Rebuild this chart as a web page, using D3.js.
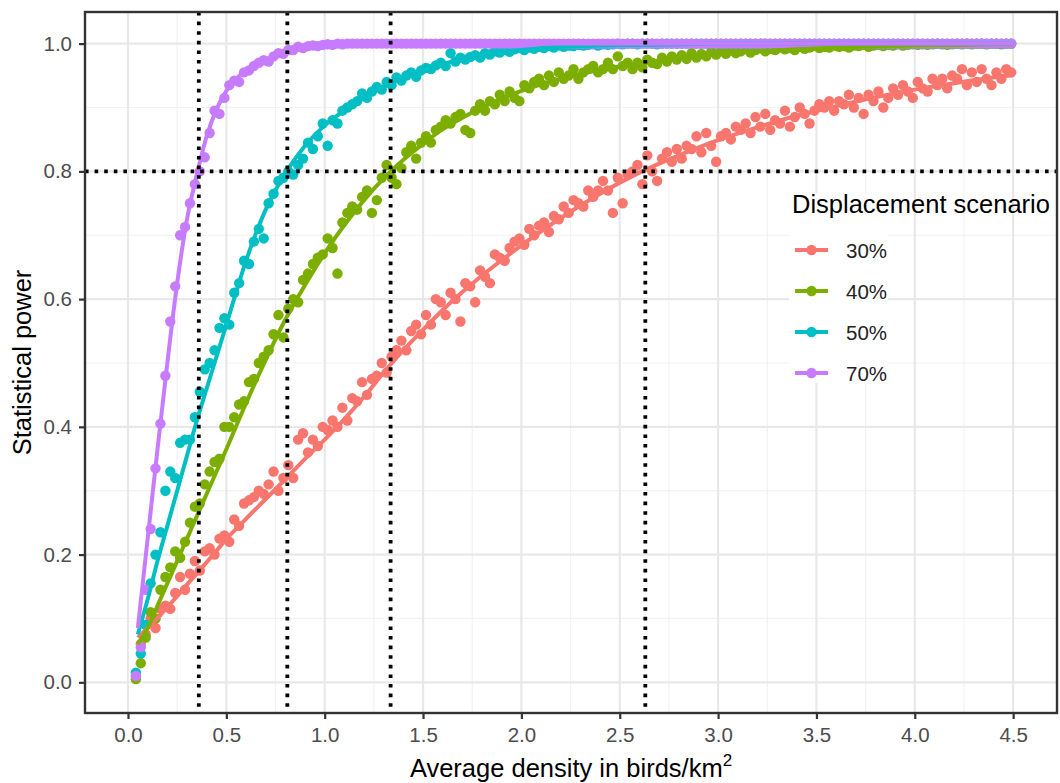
<!DOCTYPE html>
<html>
<head>
<meta charset="utf-8">
<script src="https://cdn.jsdelivr.net/npm/d3@7"></script>
<style>
  body { margin: 0; background: #fff; }
  svg { display: block; font-family: "Liberation Sans", Arial, sans-serif; }
</style>
</head>
<body>
<svg id="canvas"></svg>
<script>
// simulated densities (birds/km2), shared by all scenarios
let density = [
  0.04,0.065,0.09,0.115,0.14,0.165,0.19,0.215,0.24,0.265,
  0.29,0.315,0.34,0.365,0.39,0.415,0.44,0.465,0.49,0.515,
  0.54,0.565,0.59,0.615,0.64,0.665,0.69,0.715,0.74,0.765,
  0.79,0.815,0.84,0.865,0.89,0.915,0.94,0.965,0.99,1.015,
  1.04,1.065,1.09,1.115,1.14,1.165,1.19,1.215,1.24,1.265,
  1.29,1.315,1.34,1.365,1.39,1.415,1.44,1.465,1.49,1.515,
  1.54,1.565,1.59,1.615,1.64,1.665,1.69,1.715,1.74,1.765,
  1.79,1.815,1.84,1.865,1.89,1.915,1.94,1.965,1.99,2.015,
  2.04,2.065,2.09,2.115,2.14,2.165,2.19,2.215,2.24,2.265,
  2.29,2.315,2.34,2.365,2.39,2.415,2.44,2.465,2.49,2.515,
  2.54,2.565,2.59,2.615,2.64,2.665,2.69,2.715,2.74,2.765,
  2.79,2.815,2.84,2.865,2.89,2.915,2.94,2.965,2.99,3.015,
  3.04,3.065,3.09,3.115,3.14,3.165,3.19,3.215,3.24,3.265,
  3.29,3.315,3.34,3.365,3.39,3.415,3.44,3.465,3.49,3.515,
  3.54,3.565,3.59,3.615,3.64,3.665,3.69,3.715,3.74,3.765,
  3.79,3.815,3.84,3.865,3.89,3.915,3.94,3.965,3.99,4.015,
  4.04,4.065,4.09,4.115,4.14,4.165,4.19,4.215,4.24,4.265,
  4.29,4.315,4.34,4.365,4.39,4.415,4.44,4.465,4.49
]

let power30 = [
  0.01,0.06,0.075,0.10,0.085,0.115,0.12,0.115,0.14,0.165,
  0.145,0.17,0.19,0.175,0.205,0.21,0.2,0.225,0.23,0.22,
  0.255,0.245,0.28,0.285,0.29,0.30,0.295,0.31,0.33,0.30,
  0.32,0.34,0.32,0.38,0.39,0.36,0.38,0.37,0.40,0.395,
  0.41,0.40,0.43,0.41,0.445,0.44,0.47,0.45,0.475,0.48,
  0.50,0.485,0.51,0.52,0.535,0.52,0.55,0.56,0.545,0.575,
  0.56,0.60,0.595,0.575,0.61,0.60,0.565,0.625,0.62,0.595,
  0.645,0.635,0.625,0.67,0.665,0.66,0.68,0.69,0.695,0.685,
  0.71,0.70,0.715,0.72,0.705,0.73,0.725,0.745,0.735,0.755,
  0.75,0.745,0.77,0.76,0.77,0.785,0.77,0.735,0.79,0.75,
  0.795,0.80,0.81,0.78,0.825,0.80,0.785,0.82,0.83,0.815,
  0.835,0.82,0.84,0.835,0.855,0.83,0.86,0.84,0.815,0.855,
  0.86,0.85,0.87,0.865,0.875,0.86,0.885,0.87,0.89,0.865,
  0.88,0.875,0.895,0.87,0.885,0.90,0.89,0.875,0.895,0.905,
  0.90,0.91,0.895,0.91,0.905,0.92,0.90,0.915,0.89,0.92,
  0.91,0.925,0.90,0.915,0.93,0.92,0.935,0.925,0.915,0.94,
  0.93,0.925,0.945,0.935,0.945,0.93,0.95,0.945,0.96,0.935,
  0.955,0.94,0.96,0.945,0.935,0.955,0.945,0.96,0.955
]

let power40 = [
  0.005,0.03,0.07,0.11,0.10,0.145,0.165,0.18,0.205,0.195,
  0.22,0.25,0.275,0.28,0.31,0.33,0.345,0.35,0.40,0.40,
  0.415,0.435,0.44,0.47,0.475,0.50,0.51,0.52,0.545,0.575,
  0.54,0.585,0.60,0.595,0.63,0.64,0.655,0.665,0.67,0.695,
  0.68,0.64,0.72,0.735,0.745,0.74,0.76,0.77,0.735,0.755,
  0.79,0.81,0.79,0.78,0.805,0.83,0.84,0.82,0.845,0.855,
  0.845,0.865,0.87,0.88,0.875,0.885,0.89,0.865,0.86,0.895,
  0.905,0.895,0.91,0.905,0.92,0.91,0.925,0.915,0.91,0.935,
  0.93,0.94,0.945,0.935,0.95,0.94,0.955,0.945,0.95,0.96,
  0.945,0.955,0.96,0.965,0.955,0.96,0.97,0.96,0.98,0.965,
  0.97,0.96,0.97,0.963,0.975,0.97,0.968,0.978,0.972,0.98,
  0.975,0.982,0.976,0.985,0.978,0.984,0.98,0.987,0.983,0.988,
  0.984,0.99,0.985,0.988,0.992,0.986,0.99,0.993,0.988,0.992,
  0.99,0.994,0.991,0.993,0.99,0.995,0.992,0.994,0.996,0.993,
  0.995,0.994,0.997,0.995,0.996,0.994,0.997,0.996,0.998,0.995,
  0.997,0.998,0.996,0.998,0.997,0.999,0.997,0.998,0.999,0.998,
  0.999,0.998,0.999,1,0.999,0.998,0.999,1,0.999,1,
  0.999,1,1,0.999,1,1,0.999,1,1
]

let power50 = [
  0.015,0.045,0.09,0.155,0.20,0.235,0.30,0.33,0.32,0.375,
  0.38,0.38,0.415,0.455,0.49,0.50,0.52,0.555,0.57,0.56,
  0.61,0.625,0.66,0.655,0.69,0.71,0.695,0.75,0.765,0.785,
  0.79,0.80,0.795,0.81,0.82,0.845,0.835,0.855,0.875,0.84,
  0.88,0.875,0.895,0.90,0.905,0.91,0.922,0.915,0.925,0.932,
  0.928,0.94,0.935,0.947,0.942,0.95,0.955,0.948,0.958,0.962,
  0.96,0.966,0.97,0.965,0.985,0.972,0.978,0.975,0.979,0.982,
  0.978,0.985,0.983,0.988,0.986,0.99,0.987,0.991,0.993,0.99,
  0.994,0.992,0.995,0.993,0.996,0.994,0.997,0.995,0.997,0.996,
  0.998,0.997,0.998,0.999,0.997,0.999,0.998,0.999,1,0.999,
  1,1,0.999,1,1,1,0.999,1,1,1,
  1,1,1,1,1,1,1,1,1,1,
  1,1,1,1,1,1,1,1,1,1,
  1,1,1,1,1,1,1,1,1,1,
  1,1,1,1,1,1,1,1,1,1,
  1,1,1,1,1,1,1,1,1,1,
  1,1,1,1,1,1,1,1,1,1,
  1,1,1,1,1,1,1,1,1
]

let power70 = [
  0.01,0.055,0.145,0.24,0.335,0.405,0.48,0.565,0.62,0.70,
  0.713,0.75,0.78,0.80,0.822,0.86,0.895,0.89,0.915,0.935,
  0.942,0.94,0.955,0.958,0.965,0.97,0.974,0.972,0.98,0.985,
  0.984,0.99,0.99,0.995,0.993,0.996,0.997,0.996,0.998,0.999,
  0.998,1,0.999,1,1,1,1,1,1,1,
  1,1,1,1,1,1,1,1,1,1,
  1,1,1,1,1,1,1,1,1,1,
  1,1,1,1,1,1,1,1,1,1,
  1,1,1,1,1,1,1,1,1,1,
  1,1,1,1,1,1,1,1,1,1,
  1,1,1,1,1,1,1,1,1,1,
  1,1,1,1,1,1,1,1,1,1,
  1,1,1,1,1,1,1,1,1,1,
  1,1,1,1,1,1,1,1,1,1,
  1,1,1,1,1,1,1,1,1,1,
  1,1,1,1,1,1,1,1,1,1,
  1,1,1,1,1,1,1,1,1,1,
  1,1,1,1,1,1,1,1,1
]

// fitted curves
let fitDensity = [0.05,0.1,0.15,0.2,0.25,0.3,0.35,0.4,0.45,0.5,
  0.6,0.7,0.8,0.9,1.0,1.1,1.2,1.3,1.4,1.5,1.6,1.7,1.8,1.9,2.0,
  2.2,2.4,2.6,2.8,3.0,3.2,3.4,3.6,3.8,4.0,4.2,4.4,4.5]
let fit30 = [0.07,0.085,0.10,0.118,0.135,0.153,0.17,0.188,0.206,0.224,
  0.256,0.287,0.318,0.35,0.38,0.412,0.447,0.485,0.52,0.552,0.583,0.611,0.637,0.661,0.684,
  0.727,0.765,0.798,0.825,0.849,0.869,0.887,0.902,0.916,0.928,0.938,0.947,0.951]
let fit40 = [0.06,0.085,0.12,0.155,0.19,0.225,0.26,0.295,0.33,0.365,
  0.437,0.505,0.568,0.622,0.672,0.716,0.755,0.789,0.818,0.843,0.866,0.884,0.9,0.914,0.926,
  0.945,0.959,0.969,0.977,0.983,0.988,0.991,0.994,0.996,0.997,0.998,0.999,0.999]
let fit50 = [0.075,0.13,0.19,0.245,0.30,0.355,0.41,0.46,0.51,0.56,
  0.66,0.74,0.797,0.84,0.872,0.895,0.915,0.932,0.946,0.958,0.968,0.976,0.982,0.987,0.99,
  0.995,0.997,0.998,0.999,1,1,1,1,1,1,1,1,1]
let fit70 = [0.085,0.225,0.365,0.50,0.625,0.725,0.795,0.855,0.897,0.926,
  0.958,0.975,0.987,0.994,0.998,0.999,1,1,1,1,1,1,1,1,1,
  1,1,1,1,1,1,1,1,1,1,1,1,1]

let scenarios = ['30%', '40%', '50%', '70%']
let colors = ['#F8766D', '#7CAE00', '#00BFC4', '#C77CFF']
let powers = [power30, power40, power50, power70]
let fits = [fit30, fit40, fit50, fit70]

let xTicks = [0, 0.5, 1, 1.5, 2, 2.5, 3, 3.5, 4, 4.5]
let xMinor = [0.25, 0.75, 1.25, 1.75, 2.25, 2.75, 3.25, 3.75, 4.25]
let yTicks = [0, 0.2, 0.4, 0.6, 0.8, 1]
let yMinor = [0.1, 0.3, 0.5, 0.7, 0.9]

// reference lines: 80% power and the densities where each curve reaches it
let targetPower = [0.8]
let targetDensity = [0.36, 0.81, 1.335, 2.63]

let width = 1060
let height = 783
let pLeft = 85, pRight = 1057, pTop = 12, pBottom = 713
let font = '"Liberation Sans", Arial, sans-serif'
let pointR = 5.2
let lineW = 4

let svg = d3.select('#canvas')
svg.attr('width', width).attr('height', height)

let xScale = d3.scaleLinear().domain([-0.2186, 4.723]).range([pLeft, pRight])
let yScale = d3.scaleLinear().domain([-0.048, 1.0495]).range([pBottom, pTop])

svg.append('rect')
    .attr('x', pLeft).attr('y', pTop)
    .attr('width', pRight - pLeft).attr('height', pBottom - pTop)
    .attr('fill', 'white')

let grid = svg.append('g')

grid.selectAll('.vminor').data(xMinor).enter().append('line')
    .attr('x1', d => xScale(d)).attr('x2', d => xScale(d))
    .attr('y1', pTop).attr('y2', pBottom)
    .attr('stroke', '#f2f2f2').attr('stroke-width', 1.2)

grid.selectAll('.hminor').data(yMinor).enter().append('line')
    .attr('y1', d => yScale(d)).attr('y2', d => yScale(d))
    .attr('x1', pLeft).attr('x2', pRight)
    .attr('stroke', '#f2f2f2').attr('stroke-width', 1.2)

grid.selectAll('.vmajor').data(xTicks).enter().append('line')
    .attr('x1', d => xScale(d)).attr('x2', d => xScale(d))
    .attr('y1', pTop).attr('y2', pBottom)
    .attr('stroke', '#e8e8e8').attr('stroke-width', 2.2)

grid.selectAll('.hmajor').data(yTicks).enter().append('line')
    .attr('y1', d => yScale(d)).attr('y2', d => yScale(d))
    .attr('x1', pLeft).attr('x2', pRight)
    .attr('stroke', '#e8e8e8').attr('stroke-width', 2.2)

// points
scenarios.forEach((name, i) => {
    svg.append('g')
        .selectAll('circle')
        .data(density.map((d, j) => [d, powers[i][j]]))
        .enter()
        .append('circle')
        .attr('cx', d => xScale(d[0]))
        .attr('cy', d => yScale(d[1]))
        .attr('r', pointR)
        .attr('fill', colors[i])
})

// fitted lines
let line = d3.line()
    .x(d => xScale(d[0]))
    .y(d => yScale(d[1]))
    .curve(d3.curveMonotoneX)

scenarios.forEach((name, i) => {
    svg.append('path')
        .datum(fitDensity.map((d, j) => [d, fits[i][j]]))
        .attr('d', line)
        .attr('fill', 'none')
        .attr('stroke', colors[i])
        .attr('stroke-width', lineW)
})

// dotted reference lines
svg.selectAll('.hline').data(targetPower).enter().append('line')
    .attr('x1', pLeft).attr('x2', pRight)
    .attr('y1', d => yScale(d)).attr('y2', d => yScale(d))
    .attr('stroke', 'black').attr('stroke-width', 3.8)
    .attr('stroke-dasharray', '3.6 6')

svg.selectAll('.vline').data(targetDensity).enter().append('line')
    .attr('x1', d => xScale(d)).attr('x2', d => xScale(d))
    .attr('y1', pTop).attr('y2', pBottom)
    .attr('stroke', 'black').attr('stroke-width', 3.8)
    .attr('stroke-dasharray', '3.6 6')

// panel border
svg.append('rect')
    .attr('x', pLeft).attr('y', pTop)
    .attr('width', pRight - pLeft).attr('height', pBottom - pTop)
    .attr('fill', 'none')
    .attr('stroke', '#333').attr('stroke-width', 2.4)

// axes
let xAxis = d3.axisBottom(xScale)
    .tickValues(xTicks)
    .tickFormat(d3.format('.1f'))
    .tickSize(6)
    .tickPadding(8)

let yAxis = d3.axisLeft(yScale)
    .tickValues(yTicks)
    .tickFormat(d3.format('.1f'))
    .tickSize(6)
    .tickPadding(7)

let gx = svg.append('g')
    .attr('transform', 'translate(0, ' + pBottom + ')')
    .call(xAxis)
    .attr('font-family', font)
    .attr('font-size', 20.5)

let gy = svg.append('g')
    .attr('transform', 'translate(' + pLeft + ', 0)')
    .call(yAxis)
    .attr('font-family', font)
    .attr('font-size', 20.5)

;[gx, gy].forEach(g => {
    g.select('.domain').remove()
    g.selectAll('.tick line').attr('stroke', '#333').attr('stroke-width', 2.2)
    g.selectAll('.tick text').attr('fill', '#4d4d4d')
})

// axis titles
let xTitle = svg.append('text')
    .attr('x', (pLeft + pRight) / 2)
    .attr('y', 777)
    .attr('text-anchor', 'middle')
    .attr('font-family', font)
    .attr('font-size', 25.5)
    .attr('fill', 'black')
xTitle.append('tspan').text('Average density in birds/km')
xTitle.append('tspan').attr('dy', -11).attr('font-size', 17).text('2')

svg.append('text')
    .attr('transform', 'translate(31, ' + (pTop + pBottom) / 2 + ') rotate(-90)')
    .attr('text-anchor', 'middle')
    .attr('font-family', font)
    .attr('font-size', 25.5)
    .attr('fill', 'black')
    .text('Statistical power')

// legend
let legend = svg.append('g')

legend.append('rect')
    .attr('x', 789).attr('y', 193)
    .attr('width', 99).attr('height', 190)
    .attr('fill', 'white')

legend.append('text')
    .attr('x', 792).attr('y', 213)
    .attr('font-family', font)
    .attr('font-size', 25.5)
    .attr('fill', 'black')
    .text('Displacement scenario')

let rows = legend.selectAll('.key')
    .data(scenarios)
    .enter()
    .append('g')
    .attr('transform', (d, i) => 'translate(0, ' + (250 + i * 41) + ')')

rows.append('line')
    .attr('x1', 795).attr('x2', 828)
    .attr('stroke', (d, i) => colors[i])
    .attr('stroke-width', lineW)

rows.append('circle')
    .attr('cx', 811.5).attr('r', pointR)
    .attr('fill', (d, i) => colors[i])

rows.append('text')
    .attr('x', 846).attr('y', 7.5)
    .attr('font-family', font)
    .attr('font-size', 20.5)
    .attr('fill', '#222')
    .text(d => d)
</script>
</body>
</html>
